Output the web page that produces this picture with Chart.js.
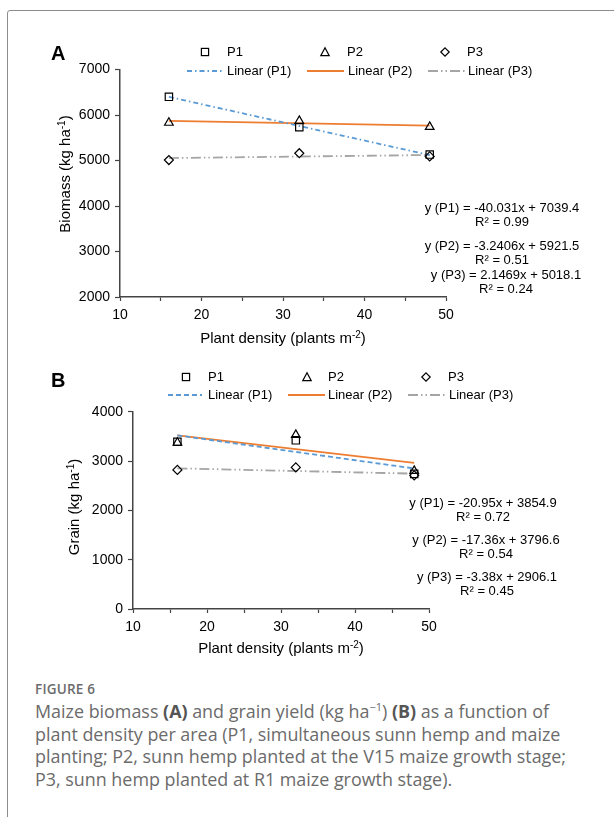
<!DOCTYPE html>
<html>
<head>
<meta charset="utf-8">
<script src="https://cdn.jsdelivr.net/npm/chart.js@4.4.1/dist/chart.umd.min.js"></script>
<style>
  body{margin:0;width:614px;height:817px;overflow:hidden;background:#fff;position:relative;font-family:"Liberation Sans",Arial,sans-serif;color:#000}
  .frame{position:absolute;left:7px;top:10px;width:700px;height:900px;border:1px solid #8c8c8c;border-radius:3px}
  .abs{position:absolute;white-space:nowrap}
  canvas{position:absolute;left:0}
  .panel{font-weight:bold;font-size:20px;line-height:20px}
  .leg{font-size:13px;line-height:13px}
  .eq{font-size:13px;line-height:13.5px;text-align:center;transform:translateX(-50%)}
  .title{font-size:15px;line-height:15px}
  .title sup{font-size:10px;line-height:0;vertical-align:5px}
  .cap{left:35px;color:#6b6b6b;font-family:"Open Sans",sans-serif}
  .caphead{font-size:13.5px;font-weight:600;letter-spacing:0.2px}
  .captext{font-size:17.9px;line-height:22.5px}
  .captext b{color:#555}
</style>
</head>
<body>
<div class="frame"></div>
<canvas id="chartA" width="614" height="340" style="top:0"></canvas>
<canvas id="chartB" width="614" height="330" style="top:340px"></canvas>
<div id="overlay"></div>
<script>
// ---- data ----
const seriesNames = ['P1', 'P2', 'P3'];
const densities = [16, 32, 48];
const fitX = [16, 48];
const xTicks = [10, 20, 30, 40, 50];

const biomassP1 = [6400, 5730, 5130];
const biomassP2 = [5830, 5870, 5740];
const biomassP3 = [5010, 5160, 5090];
const biomassFitP1 = [6399, 5118];
const biomassFitP2 = [5870, 5766];
const biomassFitP3 = [5053, 5121];
const biomassTicks = [2000, 3000, 4000, 5000, 6000, 7000];
const biomassEquations = ['y (P1) = -40.031x + 7039.4', 'y (P2) = -3.2406x + 5921.5', 'y (P3) = 2.1469x + 5018.1'];
const biomassR2 = ['R² = 0.99', 'R² = 0.51', 'R² = 0.24'];

const grainP1 = [3390, 3420, 2740];
const grainP2 = [3370, 3530, 2800];
const grainP3 = [2820, 2870, 2710];
const grainFitP1 = [3520, 2849];
const grainFitP2 = [3519, 2963];
const grainFitP3 = [2852, 2744];
const grainTicks = [0, 1000, 2000, 3000, 4000];
const grainEquations = ['y (P1) = -20.95x + 3854.9', 'y (P2) = -17.36x + 3796.6', 'y (P3) = -3.38x + 2906.1'];
const grainR2 = ['R² = 0.72', 'R² = 0.54', 'R² = 0.45'];

const captionLines = [
  'Maize biomass <b>(A)</b> and grain yield (kg ha<sup style="font-size:11px;line-height:0">−1</sup>) <b>(B)</b> as a function of',
  'plant density per area (P1, simultaneous sunn hemp and maize',
  'planting; P2, sunn hemp planted at the V15 maize growth stage;',
  'P3, sunn hemp planted at R1 maize growth stage).'
];

// ---- styles ----
const FONT = '"Liberation Sans", Arial, sans-serif';
const lineColors = ['#5B9BD5', '#ED7D31', '#A5A5A5'];
const markerStyles = ['rect', 'triangle', 'rectRot'];
const markerRadius = [5.2, 5, 4.5];
const dashesA = [[5, 3, 1.5, 3], [], [10, 3, 1.5, 3, 1.5, 3]];
const dashesB = [[5, 3], [], [10, 3, 1.5, 3, 1.5, 3]];

function pts(xs, ys) { return xs.map((x, i) => ({x: x, y: ys[i]})); }

function buildChart(id, cfg) {
  const datasets = [];
  cfg.values.forEach((vals, i) => {
    datasets.push({
      label: seriesNames[i], data: pts(densities, vals), showLine: false,
      pointStyle: markerStyles[i], pointRadius: markerRadius[i],
      pointBorderColor: '#000', pointBackgroundColor: 'rgba(0,0,0,0)', pointBorderWidth: 1.2
    });
  });
  cfg.fits.forEach((vals, i) => {
    datasets.push({
      label: 'Linear (' + seriesNames[i] + ')', data: pts(fitX, vals), showLine: true,
      pointRadius: 0, borderColor: lineColors[i], borderWidth: 1.8, borderDash: cfg.dashes[i]
    });
  });
  const a = cfg.area;
  return new Chart(document.getElementById(id), {
    type: 'scatter',
    data: {datasets},
    options: {
      responsive: false, animation: false, devicePixelRatio: 1,
      layout: {autoPadding: false, padding: {left: 0, top: a.top, right: 614 - a.right, bottom: cfg.h - a.bottom - 40}},
      plugins: {legend: {display: false}, tooltip: {enabled: false}},
      scales: {
        x: {
          type: 'linear', min: xTicks[0], max: xTicks[xTicks.length - 1],
          afterFit: s => { s.height = 40; },
          ticks: {stepSize: 5, autoSkip: false, maxRotation: 0, padding: 6, color: '#000',
            font: {family: FONT, size: 14},
            callback: v => (xTicks.includes(v) ? String(v) : '')},
          grid: {drawOnChartArea: false, drawTicks: true, tickLength: 4, tickColor: '#444', tickWidth: 1.2},
          border: {color: '#444', width: 1.5}
        },
        y: {
          type: 'linear', min: cfg.yTicks[0], max: cfg.yTicks[cfg.yTicks.length - 1],
          afterFit: s => { s.width = a.left; },
          ticks: {stepSize: cfg.yTicks[1] - cfg.yTicks[0], padding: 5, color: '#000',
            font: {family: FONT, size: 14},
            callback: v => String(v)},
          grid: {drawOnChartArea: false, drawTicks: true, tickLength: 5, tickColor: '#444', tickWidth: 1.2},
          border: {color: '#444', width: 1.5}
        }
      }
    }
  });
}

buildChart('chartA', {
  h: 340, area: {left: 120, right: 446, top: 69.5, bottom: 297},
  yTicks: biomassTicks, values: [biomassP1, biomassP2, biomassP3],
  fits: [biomassFitP1, biomassFitP2, biomassFitP3], dashes: dashesA
});
buildChart('chartB', {
  h: 330, area: {left: 133, right: 429, top: 71.7, bottom: 269},
  yTicks: grainTicks, values: [grainP1, grainP2, grainP3],
  fits: [grainFitP1, grainFitP2, grainFitP3], dashes: dashesB
});

// ---- overlay: legends, titles, equations, caption ----
const ov = document.getElementById('overlay');
function add(html, cls, style) {
  const d = document.createElement('div');
  d.className = 'abs ' + (cls || '');
  d.innerHTML = html;
  Object.assign(d.style, style);
  ov.appendChild(d);
  return d;
}
function markerSvg(i) {
  const s = '<svg width="12" height="12" viewBox="0 0 12 12" style="display:block">';
  let shape;
  if (i === 0) shape = '<rect x="2.4" y="2.4" width="7.2" height="7.2" fill="none" stroke="#000" stroke-width="1.2"/>';
  else if (i === 1) shape = '<polygon points="6,1.8 10.2,9.6 1.8,9.6" fill="none" stroke="#000" stroke-width="1.2"/>';
  else shape = '<polygon points="6,1.8 10.2,6 6,10.2 1.8,6" fill="none" stroke="#000" stroke-width="1.2"/>';
  return s + shape + '</svg>';
}
function lineSvg(i, len, dash) {
  return '<svg width="' + len + '" height="4" style="display:block"><line x1="0" y1="2" x2="' + len +
    '" y2="2" stroke="' + lineColors[i] + '" stroke-width="1.8" stroke-dasharray="' + (dash.length ? dash.join(' ') : 'none') + '"/></svg>';
}
function legend(row1y, row2y, cols, dashes) {
  cols.forEach((c, i) => {
    add(markerSvg(i), '', {left: (c.marker - 6) + 'px', top: (row1y - 6) + 'px'});
    add(seriesNames[i], 'leg', {left: c.text + 'px', top: (row1y - 7) + 'px'});
    add(lineSvg(i, c.l2 - c.l1, dashes[i]), '', {left: c.l1 + 'px', top: (row2y - 2) + 'px'});
    add('Linear (' + seriesNames[i] + ')', 'leg', {left: c.text2 + 'px', top: (row2y - 7) + 'px'});
  });
}
legend(52, 71, [
  {marker: 205, text: 227, l1: 187, l2: 222, text2: 227},
  {marker: 325, text: 347, l1: 307, l2: 344, text2: 348},
  {marker: 445, text: 467, l1: 428, l2: 465, text2: 468}
], dashesA);
legend(377, 395, [
  {marker: 186, text: 208, l1: 168, l2: 202, text2: 208},
  {marker: 307, text: 328, l1: 288, l2: 325, text2: 328},
  {marker: 426, text: 448, l1: 408, l2: 446, text2: 449}
], dashesB);

add('A', 'panel', {left: '51px', top: '43px'});
add('B', 'panel', {left: '51px', top: '370px'});

// axis titles
const yTitleA = add('Biomass (kg ha<sup>-1</sup>)', 'title', {});
yTitleA.style.left = '64px'; yTitleA.style.top = '174px';
yTitleA.style.transform = 'translate(-50%,-50%) rotate(-90deg)';
const yTitleB = add('Grain (kg ha<sup>-1</sup>)', 'title', {});
yTitleB.style.left = '73px'; yTitleB.style.top = '507px';
yTitleB.style.transform = 'translate(-50%,-50%) rotate(-90deg)';
const xTitleA = add('Plant density (plants m<sup>-2</sup>)', 'title', {left: '283px', top: '337px'});
xTitleA.style.transform = 'translate(-50%,-50%)';
const xTitleB = add('Plant density (plants m<sup>-2</sup>)', 'title', {left: '281px', top: '647px'});
xTitleB.style.transform = 'translate(-50%,-50%)';

// equations
const eqA = [{cx: 502, y: 208}, {cx: 502, y: 246}, {cx: 506, y: 275}];
eqA.forEach((p, i) => add(biomassEquations[i] + '<br>' + biomassR2[i], 'eq', {left: p.cx + 'px', top: (p.y - 7) + 'px'}));
const eqB = [{cx: 483, y: 503}, {cx: 486, y: 540}, {cx: 487, y: 577}];
eqB.forEach((p, i) => add(grainEquations[i] + '<br>' + grainR2[i], 'eq', {left: p.cx + 'px', top: (p.y - 7) + 'px'}));

// caption
add('FIGURE 6', 'cap caphead', {top: '680px'});
add(captionLines.join('<br>'), 'cap captext', {top: '700px'});
</script>
</body>
</html>
